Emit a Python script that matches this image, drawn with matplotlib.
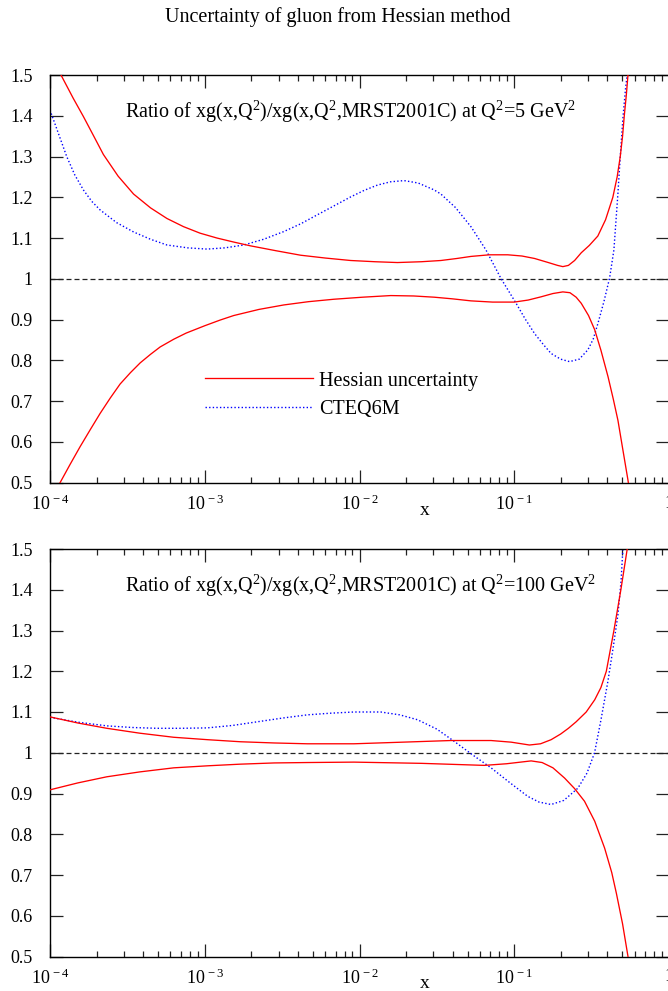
import numpy as np
import matplotlib
matplotlib.use("Agg")
import matplotlib.pyplot as plt
from matplotlib.ticker import FixedLocator, FuncFormatter, NullLocator

plt.rcParams['font.family'] = ['Liberation Serif', 'DejaVu Serif']
plt.rcParams['mathtext.fontset'] = 'custom'
plt.rcParams['mathtext.rm'] = 'Liberation Serif'
plt.rcParams['mathtext.it'] = 'Liberation Serif:italic'
plt.rcParams['mathtext.bf'] = 'Liberation Serif:bold'

# ---------------- data (x given as log10(x)) ----------------
# Panel 1 : Q^2 = 5 GeV^2
p1_up_logx = [-4.0, -3.929, -3.85, -3.784, -3.72, -3.655, -3.56, -3.46, -3.35, -3.244,
              -3.137, -3.03, -2.92, -2.81, -2.705, -2.54, -2.381, -2.22, -2.057, -1.9,
              -1.755, -1.6, -1.474, -1.37, -1.28, -1.16, -1.042, -0.95, -0.869, -0.78,
              -0.72, -0.686, -0.65, -0.61, -0.567, -0.515, -0.46, -0.41, -0.363, -0.335,
              -0.315, -0.30, -0.289, -0.276, -0.265, -0.25]
p1_up_val = [1.56, 1.50, 1.443, 1.398, 1.352, 1.305, 1.252, 1.208, 1.174, 1.148,
             1.128, 1.112, 1.100, 1.090, 1.081, 1.069, 1.058, 1.051, 1.045, 1.042,
             1.040, 1.042, 1.045, 1.050, 1.055, 1.059, 1.059, 1.056, 1.050, 1.040,
             1.033, 1.030, 1.033, 1.045, 1.064, 1.082, 1.105, 1.145, 1.200, 1.25,
             1.300, 1.35, 1.400, 1.45, 1.500, 1.56]

p1_lo_logx = [-4.0, -3.935, -3.87, -3.806, -3.74, -3.676, -3.61, -3.547, -3.48, -3.417,
              -3.35, -3.288, -3.2, -3.12, -3.0, -2.9, -2.813, -2.65, -2.489, -2.33,
              -2.165, -1.98, -1.798, -1.65, -1.517, -1.4, -1.28, -1.14, -1.0, -0.91,
              -0.826, -0.75, -0.686, -0.64, -0.60, -0.567, -0.52, -0.48, -0.44, -0.394,
              -0.36, -0.33, -0.30, -0.265, -0.24]
p1_lo_val = [0.456, 0.500, 0.545, 0.588, 0.630, 0.670, 0.708, 0.742, 0.770, 0.794,
             0.815, 0.833, 0.852, 0.867, 0.885, 0.899, 0.910, 0.925, 0.936, 0.944,
             0.950, 0.955, 0.959, 0.958, 0.955, 0.951, 0.946, 0.943, 0.943, 0.948,
             0.956, 0.964, 0.968, 0.966, 0.955, 0.940, 0.910, 0.875, 0.825, 0.760,
             0.705, 0.653, 0.585, 0.506, 0.44]

p1_ct_logx = [-4.0, -3.946, -3.892, -3.84, -3.784, -3.73, -3.676, -3.57, -3.46, -3.35,
              -3.244, -3.11, -2.985, -2.87, -2.748, -2.62, -2.489, -2.38, -2.273, -2.16,
              -2.057, -1.97, -1.884, -1.80, -1.712, -1.62, -1.517, -1.474, -1.38, -1.28,
              -1.183, -1.086, -0.988, -0.93, -0.869, -0.81, -0.762, -0.70, -0.643, -0.58,
              -0.524, -0.49, -0.459, -0.42, -0.384, -0.356, -0.345, -0.33, -0.315, -0.297,
              -0.28, -0.27, -0.25]
p1_ct_val = [1.414, 1.357, 1.300, 1.255, 1.218, 1.190, 1.169, 1.138, 1.115, 1.097,
             1.083, 1.076, 1.073, 1.076, 1.083, 1.097, 1.116, 1.135, 1.157, 1.180,
             1.201, 1.217, 1.230, 1.238, 1.241, 1.235, 1.218, 1.208, 1.175, 1.128,
             1.071, 1.001, 0.940, 0.902, 0.866, 0.838, 0.817, 0.803, 0.797, 0.803,
             0.826, 0.852, 0.891, 0.945, 1.002, 1.071, 1.13, 1.21, 1.30, 1.398,
             1.47, 1.50, 1.60]

# Panel 2 : Q^2 = 100 GeV^2
p2_up_logx = [-4.0, -3.82, -3.633, -3.42, -3.201, -2.98, -2.77, -2.55, -2.337, -2.036,
              -1.72, -1.409, -1.15, -1.02, -0.902, -0.83, -0.762, -0.70, -0.65, -0.60,
              -0.535, -0.48, -0.44, -0.405, -0.356, -0.311, -0.27, -0.24]
p2_up_val = [1.088, 1.073, 1.060, 1.048, 1.038, 1.032, 1.027, 1.024, 1.022, 1.022,
             1.026, 1.030, 1.030, 1.026, 1.019, 1.022, 1.032, 1.046, 1.060, 1.076,
             1.100, 1.130, 1.160, 1.200, 1.300, 1.400, 1.500, 1.570]

p2_lo_logx = [-4.0, -3.82, -3.633, -3.42, -3.2, -2.98, -2.77, -2.55, -2.337, -2.036,
              -1.6, -1.194, -1.05, -0.891, -0.82, -0.75, -0.675, -0.61, -0.546, -0.48,
              -0.416, -0.37, -0.34, -0.30, -0.265, -0.24]
p2_lo_val = [0.909, 0.926, 0.941, 0.953, 0.963, 0.968, 0.972, 0.975, 0.976, 0.977,
             0.974, 0.969, 0.973, 0.980, 0.976, 0.963, 0.938, 0.912, 0.881, 0.832,
             0.766, 0.706, 0.655, 0.58, 0.50, 0.42]

p2_ct_logx = [-4.0, -3.82, -3.633, -3.47, -3.31, -3.15, -2.985, -2.82, -2.66, -2.50,
              -2.337, -2.19, -2.036, -1.863, -1.74, -1.625, -1.50, -1.388, -1.27, -1.15,
              -1.03, -0.913, -0.84, -0.762, -0.68, -0.589, -0.53, -0.481, -0.44, -0.395,
              -0.36, -0.33, -0.31, -0.298, -0.28]
p2_ct_val = [1.087, 1.075, 1.066, 1.062, 1.060, 1.060, 1.061, 1.067, 1.076, 1.085,
             1.093, 1.097, 1.100, 1.100, 1.093, 1.081, 1.058, 1.028, 0.995, 0.963,
             0.927, 0.893, 0.879, 0.873, 0.883, 0.913, 0.950, 1.000, 1.08, 1.175,
             1.26, 1.339, 1.42, 1.500, 1.600]

title = "Uncertainty of gluon from Hessian method"
panel_q2 = ["5", "100"]
legend_labels = ["Hessian uncertainty", "CTEQ6M"]
xtick_exps = [-4, -3, -2, -1, 0]
yticks = [0.5, 0.6, 0.7, 0.8, 0.9, 1.0, 1.1, 1.2, 1.3, 1.4, 1.5]

panels = [
    (p1_up_logx, p1_up_val, p1_lo_logx, p1_lo_val, p1_ct_logx, p1_ct_val),
    (p2_up_logx, p2_up_val, p2_lo_logx, p2_lo_val, p2_ct_logx, p2_ct_val),
]

# ---------------- figure ----------------
W, H = 668, 991
fig = plt.figure(figsize=(W / 100, H / 100), dpi=100)
FS_TICK = 13
FS_TEXT = 14.5

ax_boxes = [(75, 482.7), (549, 956.5)]
left_px, right_px = 50, 669

red = '#ff0000'
blue = '#0000ff'

for i, ((ulx, uv, llx, lv, clx, cv), (top_px, bot_px)) in enumerate(zip(panels, ax_boxes)):
    ax = fig.add_axes([left_px / W, 1 - bot_px / H, (right_px - left_px) / W, (bot_px - top_px) / H])
    ax.set_xscale('log')
    ax.set_xlim(1e-4, 1)
    ax.set_ylim(0.5, 1.5)

    ax.axhline(1.0, color='#222222', lw=0.9, ls=(0, (4, 2.4)), zorder=1)
    l1, = ax.plot(10 ** np.array(ulx), uv, color=red, lw=0.95, zorder=3)
    ax.plot(10 ** np.array(llx), lv, color=red, lw=0.95, zorder=3)
    l2, = ax.plot(10 ** np.array(clx), cv, color=blue, lw=1.0, ls=(0, (1, 1.6)), zorder=2)

    ax.xaxis.set_major_locator(FixedLocator([10.0 ** e for e in xtick_exps]))
    ax.xaxis.set_major_formatter(FuncFormatter(
        lambda v, p: "1" if abs(v - 1) < 1e-9 else r"$10^{\,%d}$" % int(round(np.log10(v)))))
    minors = [m * 10.0 ** e for e in xtick_exps[:-1] for m in range(2, 10)]
    ax.xaxis.set_minor_locator(FixedLocator(minors))
    ax.yaxis.set_major_locator(FixedLocator(yticks))
    ax.yaxis.set_major_formatter(FuncFormatter(lambda v, p: "%g" % v))
    ax.yaxis.set_minor_locator(NullLocator())

    ax.tick_params(which='both', direction='in', top=True, right=True, labelsize=FS_TICK,
                   color='#222222', width=0.9)
    ax.tick_params(which='major', length=9.3)
    ax.tick_params(which='minor', length=4.6)
    ax.tick_params(axis='y', pad=12.5)
    ax.tick_params(axis='x', pad=8.5)
    for s in ax.spines.values():
        s.set_linewidth(1.0)

    ax.text(0.121, 0.894,
            r"Ratio of xg(x,Q$\mathregular{^2}$)/xg(x,Q$\mathregular{^2}$,MRST2001C) at Q$\mathregular{^2}$=%s GeV$\mathregular{^2}$" % panel_q2[i],
            transform=ax.transAxes, fontsize=FS_TEXT, ha='left', va='baseline')
    ax.text(0.606, -0.067, "x", transform=ax.transAxes, fontsize=14, ha='center', va='center')

    if i == 0:
        ax.legend([l1, l2], legend_labels, loc='center left', bbox_to_anchor=(0.2504, 0.215),
                  frameon=False, fontsize=FS_TEXT, handlelength=5.36, handletextpad=0.3,
                  borderpad=0, borderaxespad=0, labelspacing=0.45)

fig.text(337.5 / W, 1 - 17 / H, title, ha='center', va='center', fontsize=FS_TEXT)

fig.savefig("out.png", dpi=100)
